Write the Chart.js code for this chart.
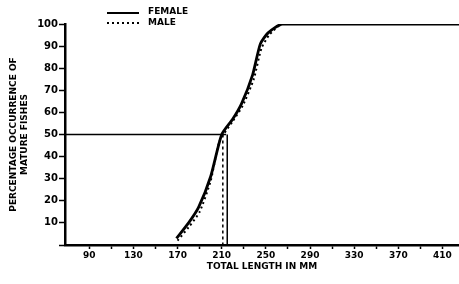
<!DOCTYPE html>
<html>
<head>
<meta charset="utf-8">
<script src="https://cdn.jsdelivr.net/npm/chart.js@4.4.1/dist/chart.umd.min.js"></script>
<style>
    html, body { margin: 0; padding: 0; background: #fff; }
    #wrap { width: 459px; height: 284px; position: relative; }
</style>
</head>
<body>
<div id="wrap"><canvas id="maturityChart"></canvas></div>
<script>
// total length (mm) vs percentage of mature fishes
const femaleLength = [169, 180, 189, 200, 210, 220, 228, 238, 245, 252, 265, 425];
const femalePct    = [3, 10, 17, 31, 50, 57, 64, 77, 91, 96, 100, 100];
const maleLength   = [170, 180, 190, 200, 208, 220, 229, 239, 246, 253, 265, 425];
const malePct      = [2, 8, 15, 29, 47, 56, 63, 75, 89, 95, 100, 100];

// 50 % reference and the lengths at first maturity
const halfLength = [68, 214];
const halfPct = [50, 50];
const femaleL50 = 215;
const maleL50 = 211;

const xTicks = [90, 110, 130, 150, 170, 190, 210, 230, 250, 270, 290, 310, 330, 350, 370, 390, 410];
const xLabels = [90, 130, 170, 210, 250, 290, 330, 370, 410];
const yTicks = [0, 10, 20, 30, 40, 50, 60, 70, 80, 90, 100];

const toPoints = (xs, ys) => xs.map((x, i) => ({ x: x, y: ys[i] }));

const tickFont = { family: 'DejaVu Sans', weight: 'bold', size: 9 };
const titleFont = { family: 'DejaVu Sans', weight: 'bold', size: 9 };

// hand drawn legend top-left, like the original figure
const legendPlugin = {
    id: 'sketchLegend',
    afterDraw(chart) {
        const ctx = chart.ctx;
        ctx.save();
        ctx.strokeStyle = '#000';
        ctx.fillStyle = '#000';
        ctx.lineWidth = 2;
        ctx.beginPath();
        ctx.moveTo(107, 13);
        ctx.lineTo(139, 13);
        ctx.stroke();
        ctx.setLineDash([2, 3]);
        ctx.beginPath();
        ctx.moveTo(107, 23);
        ctx.lineTo(139, 23);
        ctx.stroke();
        ctx.setLineDash([]);
        ctx.font = 'bold 9px "DejaVu Sans"';
        ctx.textBaseline = 'middle';
        ctx.fillText('FEMALE', 148, 12);
        ctx.fillText('MALE', 148, 23);
        ctx.restore();
    }
};

new Chart(document.getElementById('maturityChart').getContext('2d'), {
    type: 'line',
    data: {
        datasets: [
            {
                label: 'FEMALE',
                data: toPoints(femaleLength, femalePct),
                borderColor: '#000',
                borderWidth: 2.8,
                pointRadius: 0,
                tension: 0.2
            },
            {
                label: 'MALE',
                data: toPoints(maleLength, malePct),
                borderColor: '#000',
                borderWidth: 2,
                borderDash: [2, 3],
                pointRadius: 0,
                tension: 0.2
            },
            {
                label: '50%',
                data: toPoints(halfLength, halfPct),
                borderColor: '#000',
                borderWidth: 1.5,
                pointRadius: 0
            },
            {
                label: 'female L50',
                data: toPoints([femaleL50, femaleL50], [50, 0]),
                borderColor: '#000',
                borderWidth: 1.5,
                pointRadius: 0
            },
            {
                label: 'male L50',
                data: toPoints([maleL50, maleL50], [50, 0]),
                borderColor: '#000',
                borderWidth: 1.5,
                borderDash: [3, 3],
                pointRadius: 0
            }
        ]
    },
    options: {
        responsive: true,
        maintainAspectRatio: false,
        animation: false,
        layout: { padding: { left: 0, right: 0, top: 24, bottom: 12 } },
        plugins: {
            legend: { display: false },
            tooltip: { enabled: false }
        },
        scales: {
            x: {
                type: 'linear',
                min: 68,
                max: 425,
                afterBuildTicks: (s) => { s.ticks = xTicks.map(v => ({ value: v })); },
                afterFit: (s) => { s.height = 27; },
                border: { color: '#000', width: 2.5 },
                grid: { drawOnChartArea: false, tickLength: 4, tickColor: '#000', tickWidth: 1.5 },
                ticks: {
                    color: '#000',
                    font: tickFont,
                    padding: 1,
                    maxRotation: 0,
                    autoSkip: false,
                    callback: (v) => xLabels.includes(v) ? String(v) : ''
                },
                title: {
                    display: true,
                    text: 'TOTAL LENGTH IN MM',
                    color: '#000',
                    font: titleFont,
                    padding: { top: 0, bottom: 0 }
                }
            },
            y: {
                min: 0,
                max: 100,
                afterBuildTicks: (s) => { s.ticks = yTicks.map(v => ({ value: v })); },
                afterFit: (s) => { s.width = 65; },
                border: { color: '#000', width: 2.5 },
                grid: { drawOnChartArea: false, tickLength: 6, tickColor: '#000', tickWidth: 1.5 },
                ticks: {
                    color: '#000',
                    font: { family: 'DejaVu Sans', weight: 'bold', size: 10 },
                    padding: 1,
                    callback: (v) => v === 0 ? '' : String(v)
                },
                title: {
                    display: true,
                    text: ['PERCENTAGE OCCURRENCE OF', 'MATURE FISHES'],
                    color: '#000',
                    font: titleFont,
                    padding: { top: 8, bottom: 0 }
                }
            }
        }
    },
    plugins: [legendPlugin]
});
</script>
</body>
</html>
